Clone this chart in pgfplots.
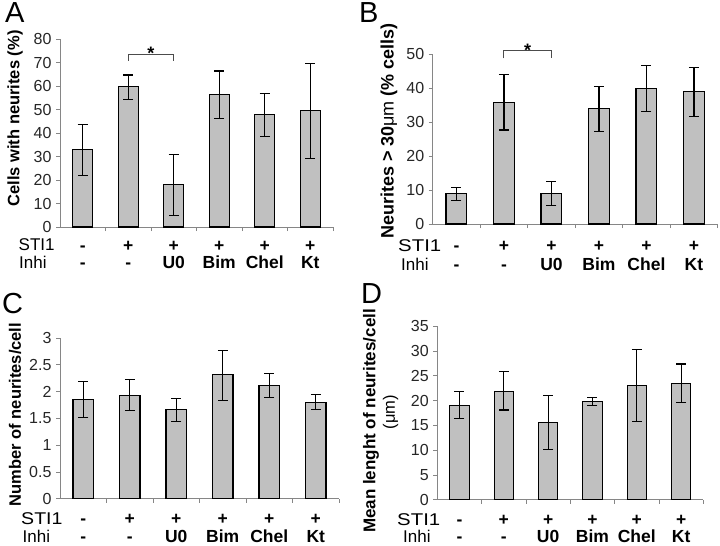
\documentclass[border=0pt]{standalone}
\usepackage{pgfplots}
\pgfplotsset{compat=1.18}
\usepackage{fontspec}
\setmainfont{Liberation Sans}
\definecolor{barfill}{HTML}{C0C0C0}
\definecolor{axgray}{HTML}{868686}

\pgfplotsset{
  panel/.style={
    scale only axis, anchor=south west, clip=false,
    xmin=-0.5, xmax=5.5, ymin=0,
    axis x line*=bottom, axis y line*=left,
    axis line style={axgray, line width=0.8pt},
    xtick={0.5,1.5,2.5,3.5,4.5,5.5}, xticklabels={},
    tick align=outside, major tick length=4pt,
    tick style={axgray, line width=0.8pt},
    yticklabel style={font=\fontsize{16}{16}\selectfont, text=black!85, xshift=-1pt},
    /pgf/number format/assume math mode=true,
  },
  mybar/.style={ybar, bar width=0.44, fill=barfill, draw=black, line width=1.1pt,
    error bars/.cd, y dir=both, y explicit,
    error bar style={black, line width=1.1pt},
    error mark options={rotate=90, mark size=5pt, line width=1.1pt, black}},
}
\tikzset{
  cl/.style={anchor=base, inner sep=0pt, font=\fontsize{17.5}{17.5}\selectfont\bfseries},
  rl/.style={anchor=base west, inner sep=0pt, font=\fontsize{17}{17}\selectfont},
  pl/.style={anchor=base west, inner sep=0pt, font=\fontsize{29}{29}\selectfont},
  yl/.style={rotate=90, inner sep=0pt, font=\fontsize{16.5}{16.5}\selectfont\bfseries},
}
\newcommand\catrows[2]{%
  \node[cl, yshift=-#1] at (axis cs:0,0) {-};
  \node[cl, yshift=-#1] at (axis cs:1,0) {+};
  \node[cl, yshift=-#1] at (axis cs:2,0) {+};
  \node[cl, yshift=-#1] at (axis cs:3,0) {+};
  \node[cl, yshift=-#1] at (axis cs:4,0) {+};
  \node[cl, yshift=-#1] at (axis cs:5,0) {+};
  \node[cl, yshift=-#2] at (axis cs:0,0) {-};
  \node[cl, yshift=-#2] at (axis cs:1,0) {-};
  \node[cl, yshift=-#2] at (axis cs:2,0) {U0};
  \node[cl, yshift=-#2] at (axis cs:3,0) {Bim};
  \node[cl, yshift=-#2] at (axis cs:4,0) {Chel};
  \node[cl, yshift=-#2] at (axis cs:5,0) {Kt};
}

\pgfplotstableread{
x y ep em
0 33.2 10.6 11.4
1 59.8 5.0 5.3
2 18.0 12.9 13.2
3 56.3 10.2 10.2
4 47.9 8.9 9.2
5 49.8 19.7 20.6
}\dataA
\pgfplotstableread{
x y ep em
0 9.0 1.8 2.0
1 35.9 8.2 8.2
2 9.0 3.5 3.6
3 34.0 6.6 6.7
4 39.8 7.0 6.7
5 39.1 7.0 7.3
}\dataB
\pgfplotstableread{
x y ep em
0 1.85 0.34 0.34
1 1.92 0.30 0.27
2 1.67 0.20 0.23
3 2.32 0.44 0.48
4 2.12 0.22 0.23
5 1.79 0.15 0.12
}\dataC
\pgfplotstableread{
x y ep em
0 19.05 2.85 2.65
1 21.8 4.0 3.7
2 15.5 5.6 5.3
3 19.9 0.7 0.8
4 23.0 7.3 7.2
5 23.4 4.0 3.8
}\dataD

\begin{document}
\begin{tikzpicture}
\useasboundingbox (0pt,0pt) rectangle (720pt,-546pt);

% Panel A
\begin{axis}[panel, at={(60pt,-227pt)}, width=273pt, height=187.7pt,
  ymax=80, ytick={0,10,...,80}]
\addplot[mybar] table[x=x, y=y, y error plus=ep, y error minus=em] {\dataA};
\draw[black!70, line width=1pt] (axis cs:1,70.8) -- (axis cs:1,73.7) -- (axis cs:2,73.7) -- (axis cs:2,70.8);
\node[anchor=base, inner sep=0pt, font=\fontsize{18}{18}\selectfont\bfseries, yshift=-5pt] at (axis cs:1.5,73.7) {*};
\catrows{24pt}{41.5pt}
\end{axis}
\node[pl] at (5pt,-23pt) {A};
\node[yl] at (15pt,-118.5pt) {Cells with neurites (\%)};
\node[rl] at (18.5pt,-250.5pt) {STI1};
\node[rl] at (19pt,-268.2pt) {Inhi};

% Panel B
\begin{axis}[panel, at={(432.7pt,-224pt)}, width=285pt, height=169.7pt,
  ymax=50, ytick={0,10,...,50}]
\addplot[mybar] table[x=x, y=y, y error plus=ep, y error minus=em] {\dataB};
\draw[black!70, line width=1pt] (axis cs:1,48.8) -- (axis cs:1,51.1) -- (axis cs:2,51.1) -- (axis cs:2,48.8);
\node[anchor=base, inner sep=0pt, font=\fontsize{18}{18}\selectfont\bfseries, yshift=-6pt] at (axis cs:1.5,51.1) {*};
\catrows{27.5pt}{46.5pt}
\end{axis}
\node[pl] at (359pt,-23pt) {B};
\node[yl, font=\fontsize{18}{18}\selectfont\bfseries] at (389pt,-131pt) {Neurites > 30\textmd{μm} (\% cells)};
\node[rl, xscale=1.2] at (398pt,-251.5pt) {STI1};
\node[rl] at (401pt,-270.5pt) {Inhi};

% Panel C
\begin{axis}[panel, at={(60pt,-498.7pt)}, width=279pt, height=160.7pt,
  ymax=3, ytick={0,0.5,...,3}]
\addplot[mybar] table[x=x, y=y, y error plus=ep, y error minus=em] {\dataC};
\catrows{26pt}{44pt}
\end{axis}
\node[pl] at (2pt,-313pt) {C};
\node[yl] at (15pt,-414.5pt) {Number of neurites/cell};
\node[rl, xscale=1.15] at (21pt,-524.5pt) {STI1};
\node[rl] at (22.5pt,-542.7pt) {Inhi};

% Panel D
\begin{axis}[panel, at={(437.3pt,-499.7pt)}, width=266pt, height=173.4pt,
  ymax=35, ytick={0,5,...,35}]
\addplot[mybar] table[x=x, y=y, y error plus=ep, y error minus=em] {\dataD};
\catrows{25.5pt}{43pt}
\end{axis}
\node[pl] at (361pt,-303pt) {D};
\node[yl, font=\fontsize{17}{17}\selectfont\bfseries] at (371pt,-421pt) {Mean lenght of neurites/cell};
\node[rotate=90, inner sep=0pt, font=\fontsize{16.5}{16.5}\selectfont] at (390.5pt,-412pt) {(μm)};
\node[rl, xscale=1.2] at (397pt,-525pt) {STI1};
\node[rl] at (403pt,-542.7pt) {Inhi};
\end{tikzpicture}
\end{document}
